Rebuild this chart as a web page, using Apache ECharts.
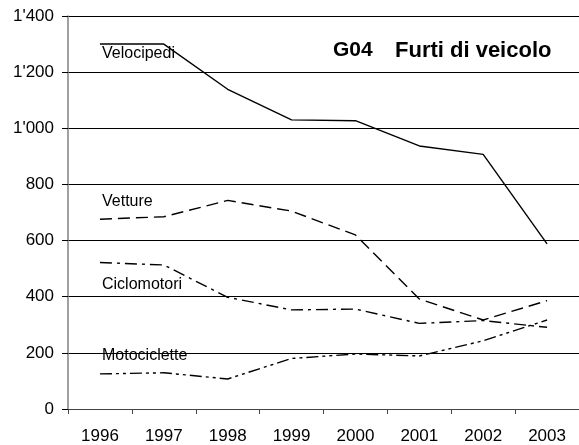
<!DOCTYPE html>
<html><head><meta charset="utf-8">
<script src="https://cdn.jsdelivr.net/npm/echarts@6/dist/echarts.min.js"></script>
<style>html,body{margin:0;padding:0;background:#fff}#c{width:579px;height:445px}</style>
</head><body><div id="c"></div>
<script>
const years = ['1996','1997','1998','1999','2000','2001','2002','2003'];
const velocipedi   = [1300, 1300, 1139, 1030, 1027, 937, 907, 588];
const vetture      = [676, 685, 743, 705, 620, 392, 317, 386];
const ciclomotori  = [522, 513, 398, 353, 356, 305, 315, 291];
const motociclette = [125, 129, 107, 180, 196, 189, 243, 317];
const seriesNames = ['Velocipedi','Vetture','Ciclomotori','Motociclette'];
const titleCode = 'G04';
const titleText = 'Furti di veicolo';

const FONT = 'Liberation Sans, Arial, sans-serif';
function fmt(v){ return v >= 1000 ? Math.floor(v/1000) + "'" + String(v%1000).padStart(3,'0') : String(v); }

const chart = echarts.init(document.getElementById('c'));
const mk = (name, data, type) => ({
  name, type:'line', data, symbol:'none', animation:false,
  lineStyle:{color:'#000', width:1.4, type}
});
chart.setOption({
  animation:false,
  grid:{left:68, right:0, top:16, bottom:36},
  xAxis:{type:'category', data:years, boundaryGap:true,
    axisLine:{lineStyle:{color:'#444', width:1}},
    axisTick:{show:true, length:5, lineStyle:{color:'#444'}},
    axisLabel:{color:'#000', fontSize:17, fontFamily:FONT, margin:19}},
  yAxis:{type:'value', min:0, max:1400, interval:200,
    axisLine:{show:true, lineStyle:{color:'#808080', width:1.5}},
    axisTick:{show:true, length:6, lineStyle:{color:'#000'}},
    axisLabel:{color:'#000', fontSize:17, fontFamily:FONT, margin:14, formatter:fmt},
    splitLine:{lineStyle:{color:'#000', width:1}}},
  series:[
    mk(seriesNames[0], velocipedi, 'solid'),
    mk(seriesNames[1], vetture, [12,6]),
    mk(seriesNames[2], ciclomotori, [12,5,3,5]),
    mk(seriesNames[3], motociclette, [12,4,3,4,3,4])
  ],
  graphic:[
    {type:'text', left:333, top:40, style:{text:titleCode, fontSize:21, fontWeight:'bold', fontFamily:FONT, fill:'#000'}},
    {type:'text', left:395, top:40, style:{text:titleText, fontSize:22, fontWeight:'bold', fontFamily:FONT, fill:'#000'}},
    {type:'text', left:102, top:46, style:{text:seriesNames[0], fontSize:16, fontFamily:FONT, fill:'#000'}},
    {type:'text', left:102, top:194, style:{text:seriesNames[1], fontSize:16, fontFamily:FONT, fill:'#000'}},
    {type:'text', left:102, top:277, style:{text:seriesNames[2], fontSize:16, fontFamily:FONT, fill:'#000'}},
    {type:'text', left:102, top:348, style:{text:seriesNames[3], fontSize:16, fontFamily:FONT, fill:'#000'}}
  ]
});
</script></body></html>
